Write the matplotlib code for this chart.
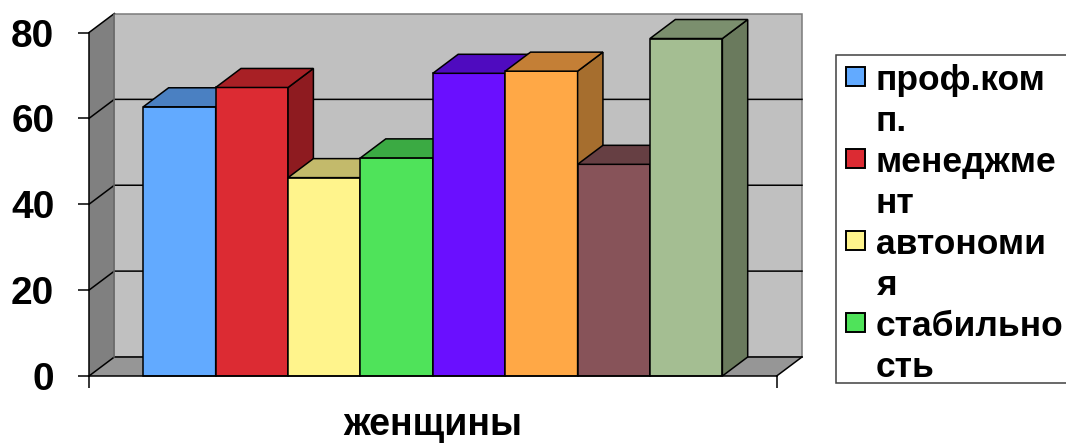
"""3D-style column chart: career anchors, women."""
import numpy as np
import matplotlib.pyplot as plt
from matplotlib.patches import Polygon, Rectangle

plt.rcParams['font.family'] = ['Liberation Sans', 'DejaVu Sans']
plt.rcParams['font.weight'] = 'bold'

category = 'женщины'
legend_labels = ['проф.ком\nп.', 'менеджме\nнт', 'автономи\nя', 'стабильно\nсть']
values = [62.7, 67.2, 46.2, 50.8, 70.5, 71.0, 49.3, 78.6]
y_ticks = [0, 20, 40, 60, 80]

front_colors = ['#62AAFF', '#DC2B33', '#FFF48C', '#4FE35A',
                '#6A0FFF', '#FFA846', '#875359', '#A4BE92']
top_colors = ['#4A80C2', '#A82025', '#C3BA6B', '#3BAA43',
              '#4F0BBF', '#C47F36', '#663F43', '#7B8F6E']
side_colors = ['#3A6699', '#8E1B20', '#A39B59', '#318C38',
               '#40099A', '#A66E2E', '#53343A', '#6A7A5D']

W, H = 1066, 445
DX = 0.35     # depth shift in bar widths
DY = 4.43     # depth shift in value units
GAP = 0.75    # empty space between walls and first/last bar
YMAX = 80
LW = 1.1

n = len(values)
floor_w = n + 2 * GAP

fig = plt.figure(figsize=(W / 100, H / 100), dpi=100)
ax = fig.add_axes([89 / W, 69 / H, 713 / W, 362.5 / H])
ax.set_xlim(0, floor_w + DX)
ax.set_ylim(0, YMAX + DY)

# walls and floor
ax.add_patch(Polygon([(0, 0), (floor_w, 0), (floor_w + DX, DY), (DX, DY)],
                     fc='#969696', ec='none', zorder=1, clip_on=False))
ax.add_patch(Polygon([(0, 0), (DX, DY), (DX, YMAX + DY), (0, YMAX)],
                     fc='#808080', ec='none', zorder=1, clip_on=False))
ax.add_patch(Rectangle((DX, DY), floor_w, YMAX, fc='#C0C0C0', ec='#7a7a7a',
                       lw=LW, zorder=1, clip_on=False))
for v in y_ticks[:-1]:
    ax.plot([0, DX, DX + floor_w], [v, v + DY, v + DY], color='black',
            lw=LW, zorder=2, clip_on=False)
ax.plot([0, DX], [YMAX, YMAX + DY], color='black', lw=LW, zorder=2, clip_on=False)
ax.plot([DX, DX], [DY, YMAX + DY], color='#6a6a6a', lw=LW, zorder=2, clip_on=False)
ax.plot([floor_w, floor_w + DX], [0, DY], color='black', lw=LW, zorder=2, clip_on=False)

# columns, drawn left to right so each front hides the previous side face
x0 = GAP + np.arange(n)
bars = ax.bar(x0, values, width=1, align='edge', color=front_colors,
              edgecolor='black', linewidth=LW, clip_on=False)
for i, (bar, v) in enumerate(zip(bars, values)):
    x = x0[i]
    bar.set_zorder(3 + i)
    ax.add_patch(Polygon([(x + 1, 0), (x + 1 + DX, DY), (x + 1 + DX, v + DY), (x + 1, v)],
                         fc=side_colors[i], ec='black', lw=LW, zorder=3.5 + i,
                         clip_on=False))
    ax.add_patch(Polygon([(x, v), (x + 1, v), (x + 1 + DX, v + DY), (x + DX, v + DY)],
                         fc=top_colors[i], ec='black', lw=LW, zorder=3.5 + i,
                         clip_on=False))

# axes
for side in ('top', 'right'):
    ax.spines[side].set_visible(False)
ax.spines['left'].set_bounds(0, YMAX)
ax.spines['bottom'].set_bounds(0, floor_w)
for side in ('left', 'bottom'):
    ax.spines[side].set_linewidth(LW)
    ax.spines[side].set_zorder(20)
ax.set_yticks(y_ticks)
ax.set_yticklabels([str(t) for t in y_ticks], fontsize=28, fontweight='bold')
ax.tick_params(axis='y', length=8, width=LW, pad=17)
ax.set_xticks([0, floor_w])
ax.set_xticklabels(['', ''])
ax.tick_params(axis='x', length=8.6, width=LW)
ax.text(floor_w / 2, -59 / 362.5, category, transform=ax.get_xaxis_transform(),
        ha='center', va='baseline', fontsize=27, fontweight='bold')

# legend box, running off the right edge
fig.add_artist(Rectangle((836 / W, 1 - 383 / H), 0.3, 328 / H,
                         transform=fig.transFigure, fc='white', ec='#404040',
                         lw=LW))
for k, (label, color) in enumerate(zip(legend_labels, front_colors)):
    base = 90 + 82 * k
    fig.add_artist(Rectangle((846 / W, 1 - (base - 4) / H), 19 / W, 19 / H,
                             transform=fig.transFigure, fc=color, ec='black',
                             lw=1.4))
    for j, line in enumerate(label.split('\n')):
        fig.text(876 / W, 1 - (base + 41 * j) / H, line, ha='left',
                 va='baseline', fontsize=25.5, fontweight='bold')

fig.savefig('out.png', dpi=100)
